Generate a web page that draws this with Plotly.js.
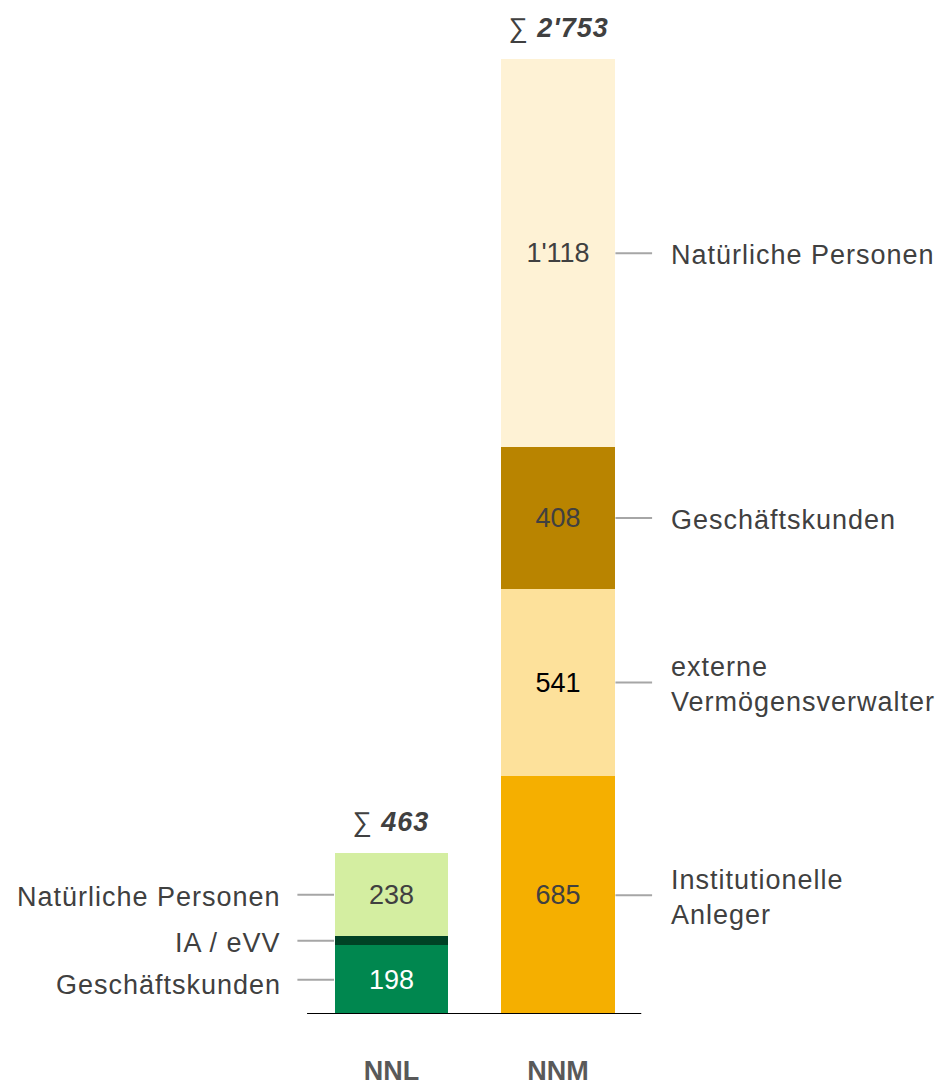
<!DOCTYPE html>
<html>
<head>
<meta charset="utf-8">
<script src="https://cdn.plot.ly/plotly-3.0.1.min.js"></script>
<style>
  body { margin: 0; background: #fff; }
  #chart { width: 939px; height: 1090px; }
  #chart .annotation-text { letter-spacing: 1px; }
</style>
</head>
<body>
<div id="chart"></div>
<script>
// Categories (bars) and the printed totals
const categories = ['NNL', 'NNM'];
const totals = [463, 2753];

// NNL stack, bottom to top
const nnlSegments = ['Geschäftskunden', 'IA / eVV', 'Natürliche Personen'];
const nnlValues = [198, 27, 238];
const nnlShowValue = [true, false, true];
const nnlColors = ['#00874F', '#004225', '#D4EEA1'];
const nnlTextColors = ['#FFFFFF', '#FFFFFF', '#404040'];

// NNM stack, bottom to top
const nnmSegments = ['Institutionelle<br>Anleger', 'externe<br>Vermögensverwalter', 'Geschäftskunden', 'Natürliche Personen'];
const nnmValues = [685, 541, 408, 1118];
const nnmShowValue = [true, true, true, true];
const nnmColors = ['#F5AF00', '#FDE19B', '#B98400', '#FEF2D5'];
const nnmTextColors = ['#404040', '#000000', '#404040', '#404040'];

const FONT = 'Liberation Sans, Arial, sans-serif';
const GREY = '#404040';
const LINE = '#A6A6A6';
const BARW = 0.68;

// swiss style thousands: 2'753
function fmt(v) {
  return String(v).replace(/\B(?=(\d{3})+(?!\d))/g, "'");
}

const traces = [];
const shapes = [];
const annotations = [];

function addStack(idx, values, colors, textColors, showValue, labels, side) {
  const cat = categories[idx];
  let base = 0;
  for (let i = 0; i < values.length; i++) {
    traces.push({
      type: 'bar',
      x: [cat],
      y: [values[i]],
      width: BARW,
      marker: { color: colors[i], line: { width: 0 } },
      text: [showValue[i] ? fmt(values[i]) : ''],
      textposition: 'inside',
      insidetextanchor: 'middle',
      constraintext: 'none',
      textfont: { family: FONT, size: 27, color: textColors[i] },
      hoverinfo: 'skip',
      showlegend: false
    });

    // leader line + side label at segment middle
    const mid = base + values[i] / 2;
    const x0 = side === 'left' ? idx - BARW / 2 - 0.225 : idx + BARW / 2 + 0.005;
    const x1 = side === 'left' ? idx - BARW / 2 - 0.005 : idx + BARW / 2 + 0.225;
    shapes.push({
      type: 'line', xref: 'x', yref: 'y',
      x0: x0, x1: x1, y0: mid, y1: mid,
      line: { color: LINE, width: 2 }
    });
    // letter-spacing (css) is not measured by plotly, so pull right-anchored labels back
    annotations.push({
      xref: 'x', yref: 'y',
      x: side === 'left' ? x0 : x1,
      y: mid,
      text: labels[i],
      showarrow: false,
      xanchor: side === 'left' ? 'right' : 'left',
      yanchor: 'middle',
      align: 'left',
      xshift: side === 'left' ? -14 - labels[i].length : 17,
      yshift: (side === 'left' && i === 0) ? -5 : -2,
      font: { family: FONT, size: 27, color: GREY }
    });
    base += values[i];
  }

  // sum on top
  annotations.push({
    xref: 'x', yref: 'y',
    x: cat, y: base,
    text: '∑ <b><i>' + fmt(totals[idx]) + '</i></b>',
    showarrow: false,
    yanchor: 'bottom',
    yshift: 14,
    font: { family: FONT, size: 27, color: GREY }
  });
}

addStack(0, nnlValues, nnlColors, nnlTextColors, nnlShowValue, nnlSegments, 'left');
addStack(1, nnmValues, nnmColors, nnmTextColors, nnmShowValue, nnmSegments, 'right');

// baseline
shapes.push({
  type: 'line', xref: 'x', yref: 'y',
  x0: -0.507, x1: 1.5, y0: 0, y1: 0,
  line: { color: '#000000', width: 2 }
});

const layout = {
  width: 939,
  height: 1090,
  margin: { l: 0, r: 0, t: 0, b: 76 },
  paper_bgcolor: '#FFFFFF',
  plot_bgcolor: '#FFFFFF',
  barmode: 'stack',
  bargap: 0,
  showlegend: false,
  font: { family: FONT, color: GREY },
  xaxis: {
    type: 'category',
    range: [-2.351, 3.288],
    showgrid: false,
    zeroline: false,
    showline: false,
    ticks: '',
    ticklabelstandoff: 38,
    tickfont: { family: FONT, size: 27, color: '#595959', weight: 'bold' },
    fixedrange: true
  },
  yaxis: {
    range: [0, 2923],
    showgrid: false,
    zeroline: false,
    showline: false,
    showticklabels: false,
    ticks: '',
    fixedrange: true
  },
  shapes: shapes,
  annotations: annotations
};

Plotly.newPlot('chart', traces, layout, { displayModeBar: false, staticPlot: true });
</script>
</body>
</html>
